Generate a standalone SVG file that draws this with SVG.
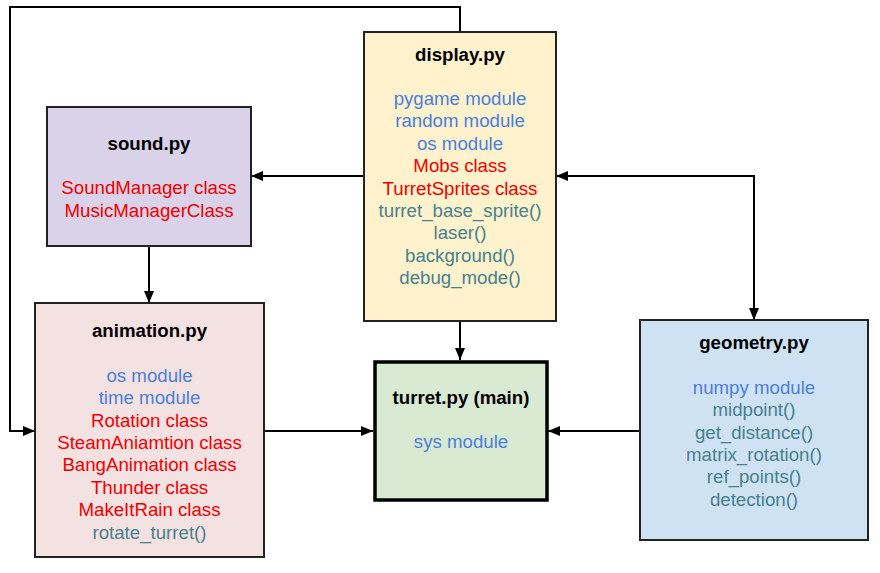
<svg xmlns="http://www.w3.org/2000/svg" width="880" height="573" viewBox="0 0 880 573">
<defs>
<marker id="ah" viewBox="0 0 12 10" refX="12" refY="5" markerWidth="12" markerHeight="10" markerUnits="userSpaceOnUse" orient="auto-start-reverse">
<path d="M0,0 L12,5 L0,10 Z" fill="#000"/>
</marker>
<style>
.box{stroke:#222;stroke-width:2}
text{font-family:"Liberation Sans",Arial,sans-serif;font-size:18.67px;text-anchor:middle}
.t{font-weight:bold;fill:#000}
.m{fill:#4a7fdc}
.c{fill:#ee0000}
.f{fill:#45818e}
.ln{fill:none;stroke:#000;stroke-width:2}
</style>
</defs>
<rect width="880" height="573" fill="#fff"/>
<g id="connectors">
<path class="ln" d="M460,32 V7 H10 V431 H35" marker-end="url(#ah)"/>
<path class="ln" d="M364,176 H251" marker-end="url(#ah)"/>
<path class="ln" d="M556,176 H754 V320" marker-start="url(#ah)" marker-end="url(#ah)"/>
<path class="ln" d="M149,246 V303" marker-end="url(#ah)"/>
<path class="ln" d="M460,321 V360" marker-end="url(#ah)"/>
<path class="ln" d="M264,431 H373" marker-end="url(#ah)"/>
<path class="ln" d="M640,431 H548" marker-end="url(#ah)"/>
</g>
<g id="display">
<rect class="box" x="364" y="32" width="192" height="289" fill="#fff2cc"/>
<text class="t" x="460" y="60.5">display.py</text>
<text class="m" x="460" y="105">pygame module</text>
<text class="m" x="460" y="127.4">random module</text>
<text class="m" x="460" y="149.8">os module</text>
<text class="c" x="460" y="172.2">Mobs class</text>
<text class="c" x="460" y="194.6">TurretSprites class</text>
<text class="f" x="460" y="217">turret_base_sprite()</text>
<text class="f" x="460" y="239.4">laser()</text>
<text class="f" x="460" y="261.8">background()</text>
<text class="f" x="460" y="284.2">debug_mode()</text>
</g>
<g id="sound">
<rect class="box" x="47" y="107" width="204" height="139" fill="#d9d2e9"/>
<text class="t" x="149" y="149.5">sound.py</text>
<text class="c" x="149" y="194.3">SoundManager class</text>
<text class="c" x="149" y="216.7">MusicManagerClass</text>
</g>
<g id="animation">
<rect class="box" x="35" y="303" width="229" height="254" fill="#f4e1e1"/>
<text class="t" x="149.5" y="337">animation.py</text>
<text class="m" x="149.5" y="381.8">os module</text>
<text class="m" x="149.5" y="404.2">time module</text>
<text class="c" x="149.5" y="426.6">Rotation class</text>
<text class="c" x="149.5" y="449">SteamAniamtion class</text>
<text class="c" x="149.5" y="471.4">BangAnimation class</text>
<text class="c" x="149.5" y="493.8">Thunder class</text>
<text class="c" x="149.5" y="516.2">MakeItRain class</text>
<text class="f" x="149.5" y="538.6">rotate_turret()</text>
</g>
<g id="turret">
<rect x="375" y="362" width="172" height="138" fill="#d9ead3" stroke="#000" stroke-width="3.5"/>
<text class="t" x="461" y="403.5">turret.py (main)</text>
<text class="m" x="461" y="448">sys module</text>
</g>
<g id="geometry">
<rect class="box" x="640" y="320" width="228" height="220" fill="#cfe2f3"/>
<text class="t" x="754" y="349">geometry.py</text>
<text class="m" x="754" y="393.8">numpy module</text>
<text class="f" x="754" y="416.2">midpoint()</text>
<text class="f" x="754" y="438.6">get_distance()</text>
<text class="f" x="754" y="461">matrix_rotation()</text>
<text class="f" x="754" y="483.4">ref_points()</text>
<text class="f" x="754" y="505.8">detection()</text>
</g>
</svg>
